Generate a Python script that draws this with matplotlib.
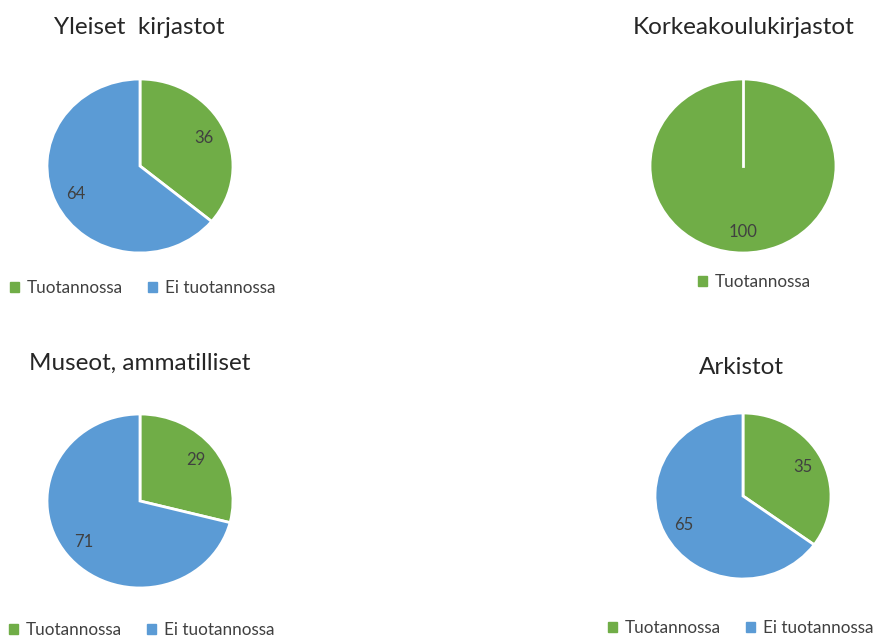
import matplotlib.pyplot as plt
from matplotlib.patches import Patch

W, H = 882, 637

titles = ["Yleiset  kirjastot", "Korkeakoulukirjastot",
          "Museot, ammatilliset", "Arkistot"]
categories = ["Tuotannossa", "Ei tuotannossa"]
yleiset = [36, 64]
korkeakoulu = [100]
museot = [29, 71]
arkistot = [35, 65]

GREEN = "#70AD47"
BLUE = "#5B9BD5"
TEXT = "#404040"

plt.rcParams["font.family"] = ["Lato", "DejaVu Sans"]


def px_axes(fig, cx, cy, rx, ry):
    return fig.add_axes([(cx - rx) / W, 1 - (cy + ry) / H,
                         2 * rx / W, 2 * ry / H])


def draw_pie(fig, values, cx, cy, rx, ry, title, title_xy, legend_xy):
    ax = px_axes(fig, cx, cy, rx, ry)
    colors = [GREEN, BLUE][:len(values)]
    wedges, _, autotexts = ax.pie(
        values, colors=colors, startangle=90, counterclock=False,
        autopct=lambda p: "%d" % round(p), pctdistance=0.76,
        wedgeprops=dict(edgecolor="white", linewidth=2),
        textprops=dict(color=TEXT, fontsize=12))
    if len(values) == 1:
        # single slice: Excel draws a white seam at the top
        ax.plot([0, 0], [0, 1], color="white", lw=2)
    ax.set_aspect("auto")
    ax.set_xlim(-1.0, 1.0)
    ax.set_ylim(-1.0, 1.0)
    ax.axis("off")
    fig.text(title_xy[0] / W, 1 - title_xy[1] / H, title, ha="center",
             va="center", fontsize=17.5, color="#262626")
    handles = [Patch(color=c) for c in colors]
    fig.legend(handles, categories[:len(values)], loc="center left",
               bbox_to_anchor=(legend_xy[0] / W, 1 - legend_xy[1] / H),
               ncol=2, frameon=False, borderaxespad=0, borderpad=0,
               handlelength=0.55, handleheight=0.55, handletextpad=0.45,
               columnspacing=1.45, fontsize=12.3, labelcolor=TEXT)


def main():
    fig = plt.figure(figsize=(W / 100, H / 100), dpi=100)

    draw_pie(fig, yleiset, 140, 166, 93, 87, titles[0], (139, 28), (10, 288))
    draw_pie(fig, korkeakoulu, 743, 166, 93, 87, titles[1], (744, 28),
             (698, 282))
    draw_pie(fig, museot, 140, 501, 93, 87, titles[2], (140, 363), (9, 630))
    draw_pie(fig, arkistot, 743, 496, 88, 83, titles[3], (741, 367),
             (608, 628))

    fig.savefig("out.png", dpi=100)


if __name__ == "__main__":
    main()
